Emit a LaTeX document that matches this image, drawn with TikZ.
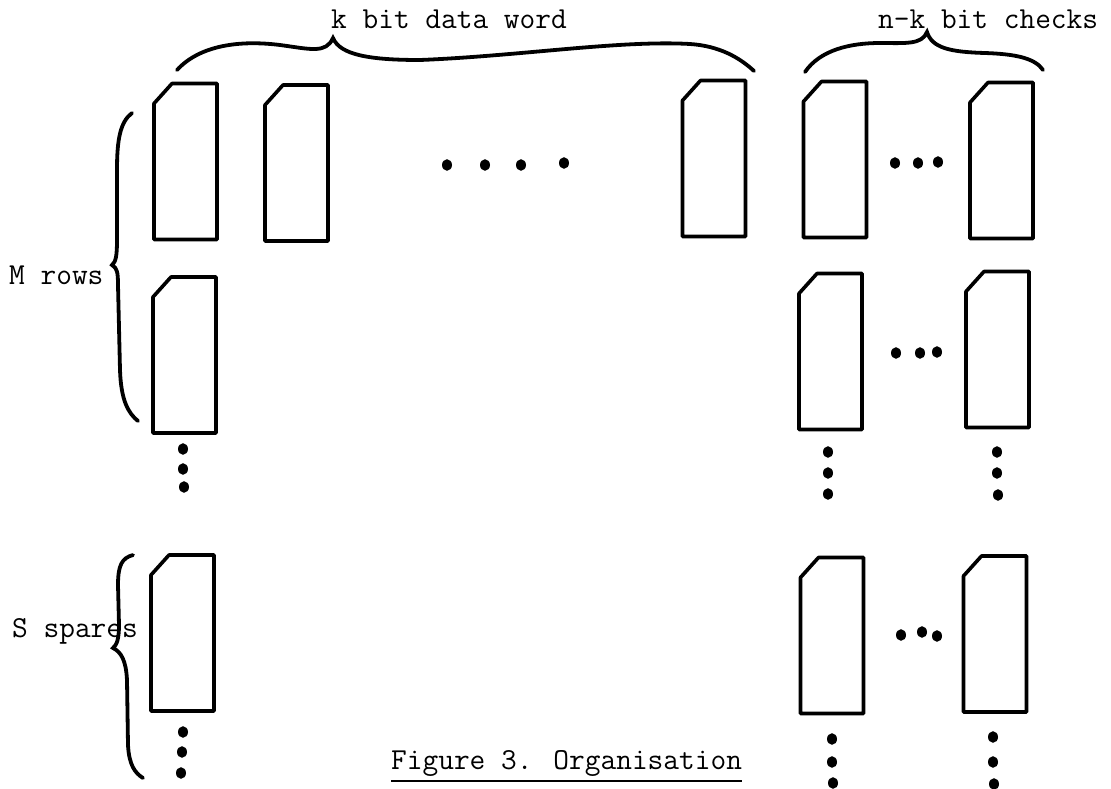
\documentclass[tikz,border=0pt]{standalone}
\begin{document}
\begin{tikzpicture}[x=1pt,y=-1pt,
  chip/.style={minimum width=63pt, minimum height=156pt, inner sep=0pt, outer sep=0pt},
  chipline/.style={line width=3.6pt, line join=round},
  bracel/.style={line width=3.8pt, line cap=round},
  lbl/.style={font=\ttfamily\fontsize{30.5}{36}\selectfont, inner sep=0pt, anchor=base west},
  dot/.style={fill=black}]
\useasboundingbox (0,0) rectangle (1111,788);
% chips
\node[chip] (a1) at (185.5,161.5) {};
\node[chip] (b1) at (296.5,163) {};
\node[chip] (c1) at (714,158.5) {};
\node[chip] (d1) at (835,159.5) {};
\node[chip] (e1) at (1001.5,160.5) {};
\node[chip] (a2) at (184.5,355) {};
\node[chip] (d2) at (830.5,351.5) {};
\node[chip] (e2) at (997.5,349.5) {};
\node[chip] (a3) at (182.5,633) {};
\node[chip] (d3) at (832,635.5) {};
\node[chip] (e3) at (995,634) {};
\foreach \n in {a1,b1,c1,d1,e1,a2,d2,e2,a3,d3,e3}
  \draw[chipline] (\n.south west) -- (\n.south east) -- (\n.north east)
    -- ([xshift=18pt]\n.north west) -- ([yshift=-20pt]\n.north west) -- cycle;
% labels
\node[lbl] (kbit) at (331,28) {k bit data word};
\node[lbl] (nk) at (878,28) {n-k bit checks};
\node[lbl] (mrows) at (9,284) {M rows};
\node[lbl] (spares) at (12,637) {S spares};
\node[lbl] (cap) at (391,769) {Figure 3. Organisation};
\draw[line width=2.4pt] ([yshift=-12pt]cap.base west) -- ([yshift=-12pt]cap.base east);
% braces
\draw[bracel] (177,70) .. controls (200,45) and (240,40) .. (280,45)
  .. controls (310,49) and (326,54) .. (333,38)
  .. controls (340,55) and (370,60) .. (420,60)
  .. controls (520,56) and (620,40) .. (690,44)
  .. controls (720,46) and (740,58) .. (754,71);
\draw[bracel] (805,72) .. controls (820,50) and (850,43) .. (880,43)
  .. controls (905,43) and (922,45) .. (927,32)
  .. controls (932,48) and (950,52) .. (985,53)
  .. controls (1015,54) and (1035,58) .. (1043,70);
\draw[bracel] (132,113) .. controls (120,122) and (117,140) .. (117,170) -- (117,240)
  .. controls (117,255) and (116,262) .. (112,265)
  .. controls (117,268) and (118,272) .. (118,285) -- (120,370)
  .. controls (121,400) and (128,413) .. (138,421);
\draw[bracel] (133,555) .. controls (122,558) and (118,565) .. (118,585) -- (119,625)
  .. controls (119,638) and (117,645) .. (113,648)
  .. controls (121,652) and (126,660) .. (127,680) -- (128,745)
  .. controls (129,765) and (135,773) .. (143,778);
% dots
\foreach \p in {(447,165),(485,165),(521,165),(564,163),
                (895,163),(918,163),(938,162),
                (896,353),(920,353),(937,352),
                (901,635),(922,632),(937,636),
                (183,449),(183,469),(184,487),
                (828,452),(828,473),(828,494),
                (997,452),(997,473),(998,495),
                (183,732),(182,752),(181,773),
                (832,739),(832,762),(833,783),
                (993,737),(993,762),(994,784)}
  \fill[dot] \p ellipse (5pt and 5.8pt);
\end{tikzpicture}
\end{document}
